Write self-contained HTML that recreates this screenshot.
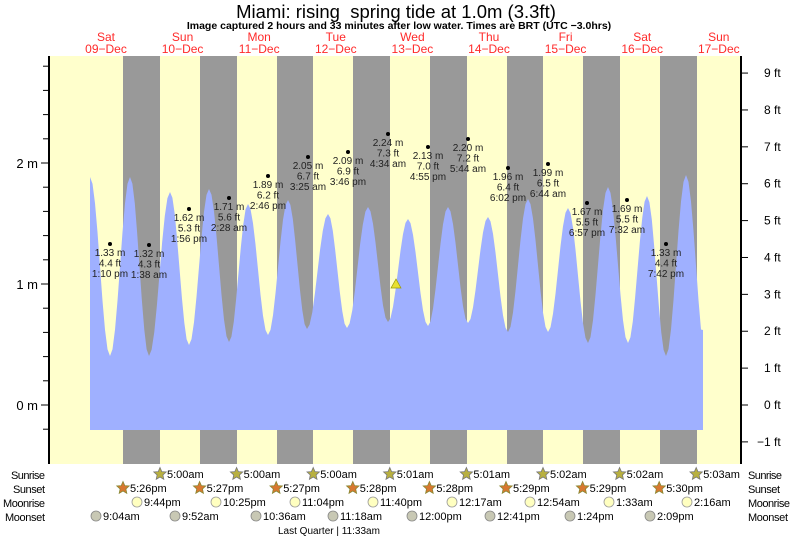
<!DOCTYPE html>
<html><head><meta charset="utf-8"><style>
html,body{margin:0;padding:0;background:#fff;}
svg{display:block;font-family:"Liberation Sans",sans-serif;}
</style></head><body>
<svg id="s" width="793" height="537" viewBox="0 0 793 537" xmlns="http://www.w3.org/2000/svg">
<rect x="0" y="0" width="793" height="537" fill="#fff"/>
<rect x="49" y="56" width="692" height="408" fill="#ffffcc"/>
<g fill="#999999">
<rect x="123" y="56" width="37" height="408"/>
<rect x="200" y="56" width="37" height="408"/>
<rect x="277" y="56" width="36" height="408"/>
<rect x="353" y="56" width="37" height="408"/>
<rect x="430" y="56" width="37" height="408"/>
<rect x="507" y="56" width="36" height="408"/>
<rect x="583" y="56" width="37" height="408"/>
<rect x="660" y="56" width="37" height="408"/>
</g>
<path id="tide" fill="#9fb0ff" d=""/>
<polygon points="396,279 391,288 401,288" fill="#e8e030" stroke="#999900" stroke-width="0.7"/>
<g id="labs" font-size="10" fill="#222" text-anchor="middle"></g>
<line x1="49" y1="56" x2="49" y2="464" stroke="#000" stroke-width="2"/>
<line x1="741" y1="56" x2="741" y2="464" stroke="#000" stroke-width="2"/>
<g id="ticks" stroke="#000" stroke-width="1"></g>
<g font-size="13" fill="#000">
<text x="38" y="168" text-anchor="end">2 m</text>
<text x="38" y="289" text-anchor="end">1 m</text>
<text x="38" y="410" text-anchor="end">0 m</text>
</g>
<g id="ft" font-size="12" fill="#000"></g>
<text x="396" y="18" font-size="18.5" text-anchor="middle" fill="#000">Miami: rising&#160; spring tide at 1.0m (3.3ft)</text>
<text x="399" y="29" font-size="10.5" font-weight="bold" text-anchor="middle" fill="#000">Image captured 2 hours and 33 minutes after low water. Times are BRT (UTC −3.0hrs)</text>
<g id="days" font-size="12" fill="#ff2a2a" text-anchor="middle"></g>
<g font-size="11" fill="#000" text-anchor="end">
<text x="45" y="479" textLength="34">Sunrise</text><text x="45" y="493" textLength="32">Sunset</text><text x="45" y="507" textLength="42">Moonrise</text><text x="45" y="521" textLength="40">Moonset</text>
</g>
<g font-size="11" fill="#000">
<text x="748" y="479" textLength="34">Sunrise</text><text x="748" y="493" textLength="32">Sunset</text><text x="748" y="507" textLength="42">Moonrise</text><text x="748" y="521" textLength="40">Moonset</text>
</g>
<g id="astro" font-size="11" fill="#000"></g>
<text x="278" y="534" font-size="10" fill="#000">Last Quarter | 11:33am</text>
</svg>
<script>
var NS="http://www.w3.org/2000/svg";
function el(p,t,a,txt){var e=document.createElementNS(NS,t);for(var k in a)e.setAttribute(k,a[k]);if(txt!=null)e.textContent=txt;document.getElementById(p).appendChild(e);return e;}
var ex=[[90,177],[110,356],[130,177],[149,356],[170,192],[189,345],[209,189],[229,342],[248,204],[268,335],[288,200],[307,329],[328,214],[347,328],[368,207],[388,322],[408,219],[428,326],[448,207],[468,323],[488,217],[508,332],[528,199],[548,332],[568,208],[588,343],[608,187],[628,343],[647,196],[666,356],[686,175],[706,356]];
var d="M90,430 L90,177 ";
for(var i=0;i<ex.length-1;i++){var a=ex[i],b=ex[i+1];for(var s=1;s<=8;s++){var t=s/8,x=a[0]+(b[0]-a[0])*t;if(x>703)break;var y=a[1]+(b[1]-a[1])*(1-Math.cos(Math.PI*t))/2;d+="L"+x.toFixed(1)+","+y.toFixed(1)+" ";}}
d+="L703,330 L703,430 Z";document.getElementById("tide").setAttribute("d",d);
var L=[[110,244,"1.33 m","4.4 ft","1:10 pm"],[149,245,"1.32 m","4.3 ft","1:38 am"],[189,209,"1.62 m","5.3 ft","1:56 pm"],[229,198,"1.71 m","5.6 ft","2:28 am"],[268,176,"1.89 m","6.2 ft","2:46 pm"],[308,157,"2.05 m","6.7 ft","3:25 am"],[348,152,"2.09 m","6.9 ft","3:46 pm"],[388,134,"2.24 m","7.3 ft","4:34 am"],[428,147,"2.13 m","7.0 ft","4:55 pm"],[468,139,"2.20 m","7.2 ft","5:44 am"],[508,168,"1.96 m","6.4 ft","6:02 pm"],[548,164,"1.99 m","6.5 ft","6:44 am"],[587,203,"1.67 m","5.5 ft","6:57 pm"],[627,200,"1.69 m","5.5 ft","7:32 am"],[666,244,"1.33 m","4.4 ft","7:42 pm"]];
L.forEach(function(l){el("labs","circle",{cx:l[0],cy:l[1],r:2,fill:"#000"});for(var j=0;j<3;j++)el("labs","text",{x:l[0],y:l[1]+12+j*10.5},l[2+j]);});
for(var m=-0.2;m<=2.81;m+=0.2){var y=405-m*121;var big=Math.abs(m-Math.round(m))<0.01;el("ticks","line",{x1:big?41:43,y1:y,x2:49,y2:y});}
for(var f=-1;f<=9;f++){var y=405-f*0.3048*121;el("ticks","line",{x1:741,y1:y,x2:748,y2:y});el("ft","text",{x:f<0?757:764,y:y+4},(f<0?"−1":f)+" ft");}
var dn=["Sat","Sun","Mon","Tue","Wed","Thu","Fri","Sat","Sun"],dd=["09","10","11","12","13","14","15","16","17"];
for(var i=0;i<9;i++){var x=106+i*76.6;el("days","text",{x:x,y:41},dn[i]);el("days","text",{x:x,y:53},dd[i]+"−Dec");}
function star(x,y,fill,stroke){var p="";for(var k=0;k<10;k++){var r=k%2?3:6.5,a=-Math.PI/2+k*Math.PI/5;p+=(x+r*Math.cos(a)).toFixed(1)+","+(y+r*Math.sin(a)).toFixed(1)+" ";}el("astro","polygon",{points:p,fill:fill,stroke:stroke,"stroke-width":0.8});}
var sr=["5:00am","5:00am","5:00am","5:01am","5:01am","5:02am","5:02am","5:03am"],ss=["5:26pm","5:27pm","5:27pm","5:28pm","5:28pm","5:29pm","5:29pm","5:30pm"];
for(var i=0;i<8;i++){var x=160+i*76.6;star(x,474,"#b8b040","#777");el("astro","text",{x:x+7,y:478},sr[i]);
var x2=123+i*76.6;star(x2,488,"#d87830","#883");el("astro","text",{x:x2+7,y:492},ss[i]);}
var mr=[[137,"9:44pm"],[216,"10:25pm"],[295,"11:04pm"],[373,"11:40pm"],[452,"12:17am"],[530,"12:54am"],[609,"1:33am"],[687,"2:16am"]];
mr.forEach(function(m){el("astro","circle",{cx:m[0],cy:502,r:5,fill:"#ffffc0",stroke:"#999","stroke-width":0.8});el("astro","text",{x:m[0]+7,y:506},m[1]);});
var ms=[[96,"9:04am"],[175,"9:52am"],[256,"10:36am"],[333,"11:18am"],[412,"12:00pm"],[490,"12:41pm"],[570,"1:24pm"],[650,"2:09pm"]];
ms.forEach(function(m){el("astro","circle",{cx:m[0],cy:516,r:5,fill:"#c8c8b4",stroke:"#888","stroke-width":0.8});el("astro","text",{x:m[0]+7,y:520},m[1]);});
</script>
</body></html>
